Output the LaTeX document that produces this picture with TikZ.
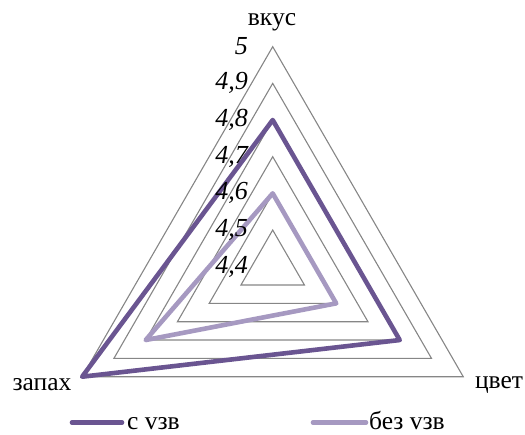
\documentclass[tikz,border=0pt]{standalone}
\usepackage{fontspec}
\setmainfont{Liberation Serif}
\definecolor{gridgray}{HTML}{868686}
\definecolor{darkp}{HTML}{6A5591}
\definecolor{lightp}{HTML}{A699C1}
\begin{document}
\begin{tikzpicture}[x=1pt,y=1pt,
  gridline/.style={draw=gridgray,line width=1.1pt,line join=miter},
  series/.style={line width=4.6pt,line join=round,line cap=round},
  axislabel/.style={font=\fontsize{25.5}{28}\selectfont,inner sep=0pt},
  ticklabel/.style={font=\fontsize{26}{29}\selectfont\itshape,inner sep=0pt,anchor=east}]
\useasboundingbox (0,0) rectangle (525,-434);
\def\u{36.67}
\begin{scope}[shift={(272.7,-266.7)}]
  % grid triangles 4.5 .. 5.0
  \foreach \k in {1,...,6}{
    \draw[gridline] (90:\k*\u) -- (-30:\k*\u) -- (210:\k*\u) -- cycle;
  }
  % series: с узв (вкус 4.8, цвет 4.8, запах 5.0)
  \coordinate (d1) at (90:4*\u);
  \coordinate (d2) at (-30:4*\u);
  \coordinate (d3) at (210:6*\u);
  \draw[series,draw=darkp] (d1) -- (d2) -- (d3) -- cycle;
  % series: без узв (вкус 4.6, цвет 4.6, запах 4.8)
  \coordinate (l1) at (90:2*\u);
  \coordinate (l2) at (-30:2*\u);
  \coordinate (l3) at (210:4*\u);
  \draw[series,draw=lightp] (l1) -- (l2) -- (l3) -- cycle;
\end{scope}
% tick labels
\node[ticklabel] (t50) at (248,-46.5) {5};
\node[ticklabel] (t49) at (248,-83.2) {4,9};
\node[ticklabel] (t48) at (248,-119.8) {4,8};
\node[ticklabel] (t47) at (248,-156.5) {4,7};
\node[ticklabel] (t46) at (248,-193.2) {4,6};
\node[ticklabel] (t45) at (248,-229.8) {4,5};
\node[ticklabel] (t44) at (248,-266.5) {4,4};
% axis labels
\node[axislabel] (vkus) at (272,-22) {вкус};
\node[axislabel] (zapah) at (42,-385) {запах};
\node[axislabel] (cvet) at (499,-385) {цвет};
% legend
\coordinate (la) at (72,-422.5);
\coordinate (lb) at (122,-422.5);
\coordinate (lc) at (313,-422.5);
\coordinate (ld) at (366,-422.5);
\draw[series,draw=darkp] (la) -- (lb);
\draw[series,draw=lightp] (lc) -- (ld);
\node[axislabel,anchor=base west] (leg1) at (127,-429) {с vзв};
\node[axislabel,anchor=base west] (leg2) at (369,-429) {без vзв};
\end{tikzpicture}
\end{document}
